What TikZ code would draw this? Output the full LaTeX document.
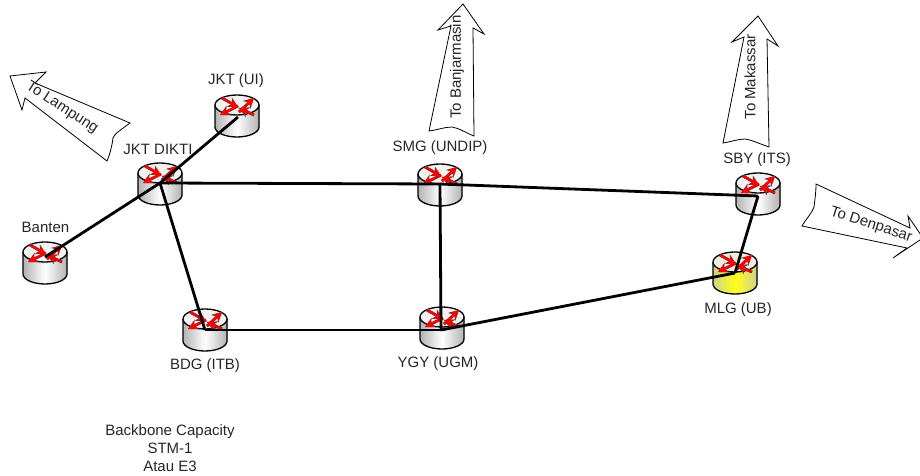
\documentclass[tikz,border=0pt]{standalone}
\usepackage{fontspec}
\setmainfont{Liberation Sans}
\usetikzlibrary{arrows.meta}
\tikzset{
  x=1pt,y=-1pt,
  lbl/.style={inner sep=0pt,text=black!85,font=\fontsize{15}{18}\selectfont,align=center},
  hub/.style={shape=coordinate},
  link/.style={line width=2.8pt,black},
  bigarrow/.style={draw=black,fill=white,line width=0.8pt,line join=miter},
  pics/router/.style n args={3}{code={
    \fill[left color=#2,right color=#2,middle color=#3,draw=none]
      (-22,-10) -- (-22,12) arc[start angle=180,end angle=360,x radius=22pt,y radius=10pt] -- (22,-10) -- cycle;
    \draw[line width=1.3pt,black]
      (-22,-10) -- (-22,12) arc[start angle=180,end angle=360,x radius=22pt,y radius=10pt] -- (22,-10);
    \draw[line width=1.3pt,black,fill=#1] (0,-10) ellipse[x radius=22pt,y radius=10pt];
    \foreach \sx/\sy/\ex/\ey in {2/-3/17/-17, 1/-9/-17/0, -15/-17/1/-8, 17/0/2/-7}{
      \draw[black!75,line width=2.9pt,-{Stealth[length=10pt,width=10.5pt]}] (\sx,\sy) -- (\ex,\ey);
      \draw[red,line width=2.3pt,-{Stealth[length=9pt,width=9pt]}] (\sx,\sy) -- (\ex,\ey);
    }
  }},
}
\begin{document}
\begin{tikzpicture}
\useasboundingbox (0,0) rectangle (920,476);
\clip (0,0) rectangle (920,476);
% routers
\foreach \px/\py in {237/115,160/183,45/262,440/184,205/329,442/327,758/193}{
  \pic at (\px,\py) {router={black!5}{black!30}{white}};
}
\pic at (735,272) {router={yellow!35!black!12!white}{yellow!60!black!45}{yellow!90!white}};
% hubs
\node[hub] (ui) at (238,117) {};
\node[hub] (dikti) at (160,183) {};
\node[hub] (banten) at (45,257) {};
\node[hub] (smg) at (440,184) {};
\node[hub] (bdg) at (205,330) {};
\node[hub] (ygy) at (441,330) {};
\node[hub] (sby) at (758,196) {};
\node[hub] (mlg) at (735,273) {};
% links
\draw[link] (ui) -- (dikti);
\draw[link] (dikti) -- (banten);
\draw[link] (dikti) -- (smg);
\draw[link] (dikti) -- (bdg);
\draw[link] (smg) -- (sby);
\draw[link] (smg) -- (ygy);
\draw[link] (bdg) -- (ygy);
\draw[link] (ygy) -- (mlg);
\draw[link] (mlg) -- (sby);
% labels
\node[lbl] (lui) at (236,81) {JKT (UI)};
\node[lbl] (ldikti) at (158,149) {JKT DIKTI};
\node[lbl] (lbanten) at (45.5,227) {Banten};
\node[lbl] (lsmg) at (440,148) {SMG (UNDIP)};
\node[lbl] (lsby) at (757,160) {SBY (ITS)};
\node[lbl] (lmlg) at (738,310) {MLG (UB)};
\node[lbl] (lbdg) at (205,366) {BDG (ITB)};
\node[lbl] (lygy) at (438,364) {YGY (UGM)};
\node[lbl] (lcap) at (170,448) {Backbone Capacity\\STM-1\\Atau E3};
% big arrows
\draw[bigarrow] (10,76) -- (46,72) -- (35,83) -- (130,123)
  .. controls (122,129) and (114,134) .. (113,138) .. controls (112,146) and (110,154) .. (107,161)
  -- (25,98) -- (22,110) -- cycle;
\node[lbl,rotate=-33] (tl) at (62,108) {To Lampung};
\draw[bigarrow] (758,16) -- (778,46) -- (767,39) -- (769,147)
  .. controls (760,144) and (752,140) .. (745,139) .. controls (738,139) and (730,142) .. (723,143)
  -- (744,37) -- (732,42) -- cycle;
\node[lbl,rotate=90] (tm) at (750,77) {To Makassar};
\draw[bigarrow] (463,4) -- (484,34) -- (473,28) -- (474,136)
  .. controls (466,133) and (459,128) .. (452,127) .. controls (445,127) and (437,130) .. (429,131)
  -- (451,26) -- (438,30) -- cycle;
\node[lbl,rotate=90] (tb) at (457,67) {To Banjarmasin};
\draw[bigarrow] (816,184) -- (910,228) -- (908,216) -- (923,238) -- (893,258) -- (907,248) -- (802,226)
  .. controls (806,219) and (812,213) .. (814,207) .. controls (815,199) and (816,192) .. cycle;
\node[lbl,rotate=-18] (td) at (871,225) {To Denpasar};
\end{tikzpicture}
\end{document}
